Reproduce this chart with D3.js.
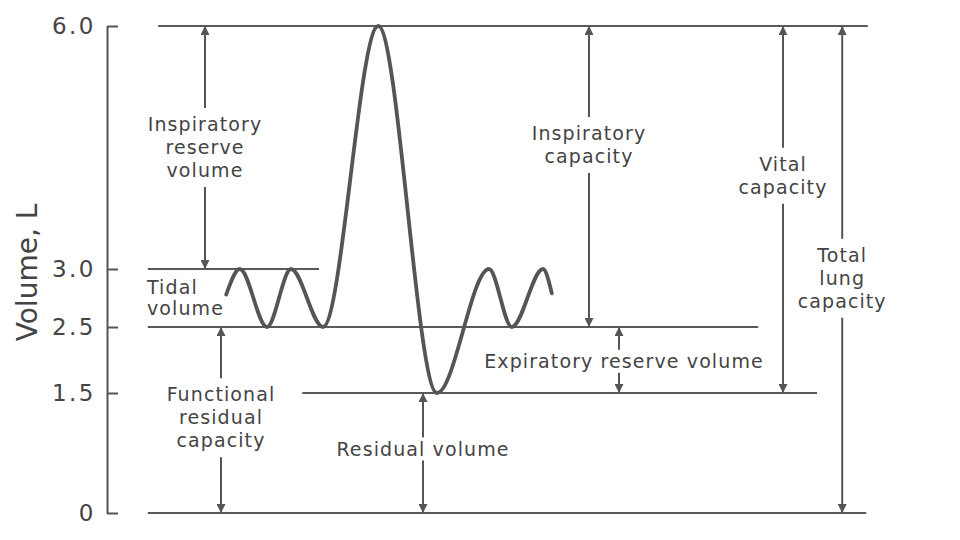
<!DOCTYPE html>
<html>
<head>
<meta charset="utf-8">
<script src="https://cdn.jsdelivr.net/npm/d3@7"></script>
<style>
	body { margin: 0; background: #fff; }
	text { font-family: "DejaVu Sans", sans-serif; fill: #444; }
</style>
</head>
<body>
<div id="chart"></div>
<script>
// volume ticks (L)
const tickValues = [0, 1.5, 2.5, 3.0, 6.0]
const tickLabels = ["0", "1.5", "2.5", "3.0", "6.0"]

// spirometer trace: time (arbitrary units) and volume (L)
const traceTime = [14.9, 16.6, 20.0, 23.0, 27.0, 33.9, 41.25, 47.75, 50.6, 54.5, 55.6]
const traceVolume = [2.78, 3.0, 2.5, 3.0, 2.5, 6.0, 1.5, 3.0, 2.5, 3.0, 2.79]

// reference levels
const levelVolume = [6.0, 3.0, 2.5, 1.5, 0]
const levelStart = [6.4, 5.1, 5.1, 24.4, 5.1]
const levelEnd = [95.1, 26.5, 81.4, 88.75, 94.9]

// bracketed volumes / capacities
const spanLines = [
	["Inspiratory", "reserve", "volume"],
	["Functional", "residual", "capacity"],
	["Residual volume"],
	["Inspiratory", "capacity"],
	["Expiratory reserve volume"],
	["Vital", "capacity"],
	["Total", "lung", "capacity"]
]
const spanTime = [12.25, 14.25, 39.5, 60.25, 64.0, 84.5, 91.9]
const spanLow = [3.0, 0, 0, 2.5, 1.5, 1.5, 0]
const spanHigh = [6.0, 2.5, 1.5, 6.0, 2.5, 6.0, 6.0]
const spanLabelAt = [4.5, 1.19, 0.8, 4.53, 1.98, 4.15, 2.92]

const tidalLines = ["Tidal", "volume"]

const width = 960, height = 540
const lineHeight = 23

const x = d3.scaleLinear()
	.domain([0, 100])
	.range([107, 907])

// schematic drawing: volume axis is not evenly spaced
const y = d3.scaleLinear()
	.domain(tickValues)
	.range([513, 393, 327, 269, 26])

const svg = d3.select('#chart')
	.append('svg')
		.attr('width', width)
		.attr('height', height)

const defs = svg.append('defs')
defs.append('marker')
		.attr('id', 'head')
		.attr('viewBox', '0 0 10 10')
		.attr('refX', 10)
		.attr('refY', 5)
		.attr('markerUnits', 'userSpaceOnUse')
		.attr('markerWidth', 14)
		.attr('markerHeight', 9)
		.attr('orient', 'auto-start-reverse')
	.append('path')
		.attr('d', 'M0,0 L10,5 L0,10 Z')
		.attr('fill', '#555')

// axis
const gy = svg.append('g')
		.attr('transform', `translate(${x(0)},0)`)
		.call(d3.axisLeft(y)
			.tickValues(tickValues)
			.tickFormat((d, i) => tickLabels[i])
			.tickSizeInner(-11)
			.tickSizeOuter(0)
			.tickPadding(11))

gy.select('.domain').attr('stroke', '#555').attr('stroke-width', 2)
gy.selectAll('.tick line').attr('stroke', '#555').attr('stroke-width', 2)
gy.selectAll('.tick text')
		.attr('font-family', '"DejaVu Sans", sans-serif')
		.attr('font-size', 23)
		.attr('letter-spacing', 2.5)
		.attr('fill', '#4a4a4a')

svg.append('text')
		.attr('transform', `translate(37,${y(2.97)}) rotate(-90)`)
		.attr('text-anchor', 'middle')
		.attr('font-size', 28)
		.text('Volume, L')

// level lines
svg.append('g')
	.selectAll('line')
	.data(levelVolume)
	.enter().append('line')
		.attr('x1', (d, i) => x(levelStart[i]))
		.attr('x2', (d, i) => x(levelEnd[i]))
		.attr('y1', d => y(d))
		.attr('y2', d => y(d))
		.attr('stroke', '#5a5a5a')
		.attr('stroke-width', 2)

// trace
const trace = traceTime.map((t, i) => ({t: t, v: traceVolume[i]}))
const line = d3.line()
	.x(d => x(d.t))
	.y(d => y(d.v))
	.curve(d3.curveMonotoneX)

svg.append('path')
		.datum(trace)
		.attr('d', line)
		.attr('fill', 'none')
		.attr('stroke', '#555')
		.attr('stroke-width', 3.8)
		.attr('stroke-linecap', 'round')

// spans with split arrows and labels
const spans = spanLines.map((lines, i) => ({
	lines: lines,
	t: spanTime[i],
	lo: spanLow[i],
	hi: spanHigh[i],
	at: spanLabelAt[i]
}))

const gap = d => d.lines.length * lineHeight / 2 + (d.lines.length > 1 ? 5 : 0)

const span = svg.append('g')
	.selectAll('g')
	.data(spans)
	.enter().append('g')

span.append('line')
		.attr('x1', d => x(d.t))
		.attr('x2', d => x(d.t))
		.attr('y1', d => y(d.hi))
		.attr('y2', d => y(d.at) - gap(d))
		.attr('stroke', '#555')
		.attr('stroke-width', 2)
		.attr('marker-start', 'url(#head)')

span.append('line')
		.attr('x1', d => x(d.t))
		.attr('x2', d => x(d.t))
		.attr('y1', d => y(d.at) + gap(d))
		.attr('y2', d => y(d.lo))
		.attr('stroke', '#555')
		.attr('stroke-width', 2)
		.attr('marker-end', 'url(#head)')

span.append('text')
		.attr('text-anchor', 'middle')
		.attr('font-size', 19)
		.attr('letter-spacing', 1.1)
	.selectAll('tspan')
	.data(d => d.lines.map((s, j) => ({s: s, j: j, d: d})))
	.enter().append('tspan')
		.attr('x', o => x(o.d.t) + (o.d.lines.length === 1 && o.s.length > 20 ? 5 : 0))
		.attr('y', o => y(o.d.at) + (o.j - (o.d.lines.length - 1) / 2) * lineHeight)
		.attr('dy', '0.35em')
		.text(o => o.s)

// tidal volume label
svg.append('text')
		.attr('font-size', 19)
		.attr('letter-spacing', 1.1)
	.selectAll('tspan')
	.data(tidalLines)
	.enter().append('tspan')
		.attr('x', x(5.0))
		.attr('y', (d, i) => y(2.75) + (i - 0.5) * 21)
		.attr('dy', '0.35em')
		.text(d => d)
</script>
</body>
</html>
